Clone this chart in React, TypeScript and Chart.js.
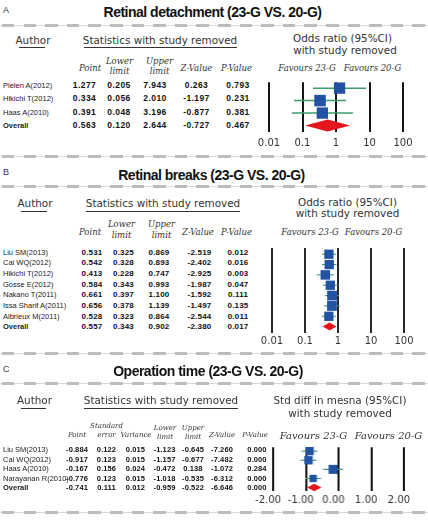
import React, { useEffect, useRef } from "react";
import { Chart, registerables } from "chart.js";

Chart.register(...registerables);

// ---- A: Retinal detachment, odds ratio with study removed ----
const authorsA = ["Pielen A(2012)", "Hikichi T(2012)", "Haas A(2010)", "Overall"];
const pointA = [1.277, 0.334, 0.391, 0.563];
const lowerA = [0.205, 0.056, 0.048, 0.12];
const upperA = [7.943, 2.01, 3.196, 2.644];
const zA = [0.263, -1.197, -0.877, -0.727];
const pA = [0.793, 0.231, 0.381, 0.467];

// ---- B: Retinal breaks, odds ratio with study removed ----
const authorsB = [
  "Liu SM(2013)",
  "Cai WQ(2012)",
  "Hikichi T(2012)",
  "Gosse E(2012)",
  "Nakano T(2011)",
  "Issa Sharif A(2011)",
  "Albrieux M(2011)",
  "Overall",
];
const pointB = [0.531, 0.542, 0.413, 0.584, 0.661, 0.656, 0.528, 0.557];
const lowerB = [0.325, 0.328, 0.228, 0.343, 0.397, 0.378, 0.323, 0.343];
const upperB = [0.869, 0.893, 0.747, 0.993, 1.1, 1.139, 0.864, 0.902];
const zB = [-2.519, -2.402, -2.925, -1.987, -1.592, -1.497, -2.544, -2.38];
const pB = [0.012, 0.016, 0.003, 0.047, 0.111, 0.135, 0.011, 0.017];

// ---- C: Operation time, std diff in means with study removed ----
const authorsC = ["Liu SM(2013)", "Cai WQ(2012)", "Haas A(2010)", "Narayanan R(2010)", "Overall"];
const pointC = [-0.884, -0.917, -0.167, -0.776, -0.741];
const seC = [0.122, 0.123, 0.156, 0.123, 0.111];
const varC = [0.015, 0.015, 0.024, 0.015, 0.012];
const lowerC = [-1.123, -1.157, -0.472, -1.018, -0.959];
const upperC = [-0.645, -0.677, 0.138, -0.535, -0.522];
const zC = [-7.26, -7.482, -1.072, -6.312, -6.646];
const pC = [0.0, 0.0, 0.284, 0.0, 0.0];

// axis ticks
const ticksOR = [0.01, 0.1, 1, 10, 100];
const tickLabelsOR = ["0.01", "0.1", "1", "10", "100"];
const ticksSMD = [-2, -1, 0, 1, 2];
const tickLabelsSMD = ["-2.00", "-1.00", "0.00", "1.00", "2.00"];

const SANS = '"Liberation Sans", Arial, sans-serif';
const HEAD = '"DejaVu Sans", sans-serif';
const ITAL = '"DejaVu Serif", serif';
const BLUE = "#2152a3";
const GREEN = "#3f9b6c";
const RED = "#e3161d";

type Align = "left" | "center" | "right";

function Txt(props: {
  x: number;
  y: number;
  align?: Align;
  style?: React.CSSProperties;
  children: React.ReactNode;
}) {
  const { x, y, align = "left", style, children } = props;
  const tx = align === "center" ? "-50%" : align === "right" ? "-100%" : "0";
  return (
    <div
      style={{
        position: "absolute",
        left: x,
        top: y,
        transform: `translate(${tx},-50%)`,
        whiteSpace: "nowrap",
        lineHeight: 1,
        ...style,
      }}
    >
      {children}
    </div>
  );
}

function Dash({ y }: { y: number }) {
  return (
    <div style={{ position: "absolute", left: 0, top: y - 1.5, width: 428, height: 3 }}>
      <div style={{ position: "absolute", left: 0, right: 0, top: 1, height: 1, background: "#d9d9d9" }} />
      <div
        style={{
          position: "absolute",
          inset: 0,
          background:
            "repeating-linear-gradient(90deg, #bdbdbd 0px, #bdbdbd 12.5px, transparent 12.5px, transparent 21.6px)",
          backgroundPosition: "2px 0",
        }}
      />
    </div>
  );
}

function Rule({ x1, x2, y }: { x1: number; x2: number; y: number }) {
  return <div style={{ position: "absolute", left: x1, top: y, width: x2 - x1, height: 1.3, background: "#333" }} />;
}

type PlotProps = {
  type: "logarithmic" | "linear";
  min: number;
  max: number;
  ticks: number[];
  tickLabels: string[];
  point: number[];
  lower: number[];
  upper: number[];
  boxes: number[];
  diamondH: number;
  whiskerW: number;
  areaLeft: number;
  areaRight: number;
  areaTop: number;
  areaBottom: number;
  row0: number;
  pitch: number;
  labelPad: number;
  labelOffset?: number;
  gridColor: string;
};

function ForestPlot(p: PlotProps) {
  const ref = useRef<HTMLCanvasElement>(null);
  const padX = 20;
  const padTop = 4;
  const axisH = 20;
  const padBottom = 2;
  const w = p.areaRight - p.areaLeft + 2 * padX;
  const h = p.areaBottom - p.areaTop + padTop + axisH + padBottom;

  useEffect(() => {
    if (!ref.current) return;
    const studies = p.point.length - 1;
    const marks = {
      id: "forestMarks",
      beforeDatasetsDraw(chart: any) {
        const xs = chart.scales.x;
        const ys = chart.scales.y;
        const ctx = chart.ctx;
        ctx.save();
        ctx.strokeStyle = GREEN;
        ctx.lineWidth = p.whiskerW;
        for (let i = 0; i < studies; i++) {
          const y = ys.getPixelForValue(i);
          ctx.beginPath();
          ctx.moveTo(xs.getPixelForValue(p.lower[i]), y);
          ctx.lineTo(xs.getPixelForValue(p.upper[i]), y);
          ctx.stroke();
        }
        ctx.restore();
      },
      afterDatasetsDraw(chart: any) {
        const xs = chart.scales.x;
        const ys = chart.scales.y;
        const ctx = chart.ctx;
        const y = ys.getPixelForValue(studies);
        const xl = xs.getPixelForValue(p.lower[studies]);
        const xc = xs.getPixelForValue(p.point[studies]);
        const xr = xs.getPixelForValue(p.upper[studies]);
        ctx.save();
        ctx.fillStyle = RED;
        ctx.beginPath();
        ctx.moveTo(xl, y);
        ctx.lineTo(xc, y - p.diamondH / 2);
        ctx.lineTo(xr, y);
        ctx.lineTo(xc, y + p.diamondH / 2);
        ctx.closePath();
        ctx.fill();
        ctx.restore();
      },
    };

    const chart = new Chart(ref.current, {
      type: "scatter",
      data: {
        datasets: [
          {
            data: p.point.slice(0, studies).map((x, i) => ({ x, y: i })),
            pointStyle: "rect",
            pointRadius: p.boxes.map((b) => b / Math.SQRT2),
            backgroundColor: BLUE,
            borderColor: BLUE,
            borderWidth: 0,
            clip: false as any,
          },
        ],
      },
      options: {
        responsive: false,
        animation: false,
        events: [],
        layout: { padding: { left: padX, right: padX, top: padTop, bottom: padBottom } },
        plugins: { legend: { display: false }, tooltip: { enabled: false } },
        scales: {
          x: {
            type: p.type,
            min: p.min,
            max: p.max,
            afterBuildTicks: (s: any) => {
              s.ticks = p.ticks.map((v) => ({ value: v }));
            },
            afterFit: (s: any) => {
              s.height = axisH;
            },
            ticks: {
              callback: (_v: any, i: number) => p.tickLabels[i],
              autoSkip: false,
              maxRotation: 0,
              padding: p.labelPad,
              labelOffset: p.labelOffset ?? 0,
              color: "#333",
              font: { family: "DejaVu Sans", size: 10 },
            },
            grid: { color: p.gridColor, lineWidth: 2, drawTicks: false },
            border: { display: false },
          } as any,
          y: {
            type: "linear",
            reverse: true,
            display: false,
            min: (p.areaTop - p.row0) / p.pitch,
            max: (p.areaBottom - p.row0) / p.pitch,
          },
        },
      },
      plugins: [marks],
    });
    return () => chart.destroy();
  }, []);

  return (
    <canvas
      ref={ref}
      width={w}
      height={h}
      style={{ position: "absolute", left: p.areaLeft - padX, top: p.areaTop - padTop, width: w, height: h }}
    />
  );
}

function Rows(props: {
  names: string[];
  cols: number[][];
  centers: number[];
  y0: number;
  pitch: number;
  nameSize: number;
  valSize: number;
  spacing: number;
}) {
  const { names, cols, centers, y0, pitch, nameSize, valSize, spacing } = props;
  const last = names.length - 1;
  return (
    <>
      {names.map((n, i) => (
        <Txt
          key={"n" + i}
          x={3}
          y={y0 + i * pitch}
          style={{ font: `${i === last ? "bold " : ""}${nameSize}px ${SANS}`, color: "#222" }}
        >
          {n}
        </Txt>
      ))}
      {cols.map((col, c) =>
        col.map((v, i) => (
          <Txt
            key={`v${c}-${i}`}
            x={centers[c]}
            y={y0 + i * pitch}
            align="center"
            style={{ font: `bold ${valSize}px ${SANS}`, letterSpacing: spacing, color: "#111" }}
          >
            {v.toFixed(3)}
          </Txt>
        ))
      )}
    </>
  );
}

const titleStyle: React.CSSProperties = { font: `bold 14px ${SANS}`, letterSpacing: -0.5, color: "#111" };
const headStyle: React.CSSProperties = { font: `10.4px ${HEAD}`, color: "#333" };
const italStyle = (s: number): React.CSSProperties => ({ font: `italic ${s}px ${ITAL}`, color: "#333" });
const panelStyle: React.CSSProperties = { font: `9px ${SANS}`, color: "#333" };

export default function App() {
  useEffect(() => {
    document.body.style.margin = "0";
    document.body.style.background = "#fff";
  }, []);

  return (
    <div style={{ position: "relative", width: 428, height: 524, overflow: "hidden", background: "#fff" }}>
      {/* ===== A ===== */}
      <Txt x={3} y={10} style={panelStyle}>A</Txt>
      <Txt x={212.5} y={12} align="center" style={titleStyle}>Retinal detachment (23-G VS. 20-G)</Txt>
      <Dash y={25} />
      <Txt x={33} y={40} align="center" style={headStyle}>Author</Txt>
      <Rule x1={19} x2={45} y={46.5} />
      <Txt x={160} y={40} align="center" style={headStyle}>Statistics with study removed</Txt>
      <Rule x1={84} x2={237} y={46.5} />
      <Txt x={342.5} y={38} align="center" style={headStyle}>Odds ratio (95%CI)</Txt>
      <Txt x={345} y={50} align="center" style={headStyle}>with study removed</Txt>

      <Txt x={90} y={68} align="center" style={italStyle(8.5)}>Point</Txt>
      <Txt x={119.5} y={61} align="center" style={italStyle(8.5)}>Lower</Txt>
      <Txt x={119.5} y={71} align="center" style={italStyle(8.5)}>limit</Txt>
      <Txt x={159.5} y={61} align="center" style={italStyle(8.5)}>Upper</Txt>
      <Txt x={159.5} y={71} align="center" style={italStyle(8.5)}>limit</Txt>
      <Txt x={196.5} y={68} align="center" style={italStyle(8.5)}>Z-Value</Txt>
      <Txt x={236.5} y={68} align="center" style={italStyle(8.5)}>P-Value</Txt>
      <Txt x={307} y={68} align="center" style={italStyle(8.5)}>Favours 23-G</Txt>
      <Txt x={372.5} y={68} align="center" style={italStyle(8.5)}>Favours 20-G</Txt>

      <Rows
        names={authorsA}
        cols={[pointA, lowerA, upperA, zA, pA]}
        centers={[84.5, 119, 155, 196.5, 238]}
        y0={84.5}
        pitch={13.5}
        nameSize={7.5}
        valSize={8.5}
        spacing={0.4}
      />
      <ForestPlot
        type="logarithmic"
        min={0.01}
        max={100}
        ticks={ticksOR}
        tickLabels={tickLabelsOR}
        point={pointA}
        lower={lowerA}
        upper={upperA}
        boxes={[11.3, 11.5, 11.3]}
        diamondH={12}
        whiskerW={1.5}
        areaLeft={269}
        areaRight={403}
        areaTop={78}
        areaBottom={132}
        row0={84.5}
        pitch={13.5}
        labelPad={5}
        gridColor="#151515"
      />
      <Dash y={156.5} />

      {/* ===== B ===== */}
      <Txt x={3} y={172} style={panelStyle}>B</Txt>
      <Txt x={211.5} y={175} align="center" style={titleStyle}>Retinal breaks (23-G VS. 20-G)</Txt>
      <Dash y={186} />
      <Txt x={35} y={203} align="center" style={headStyle}>Author</Txt>
      <Rule x1={21} x2={47} y={210.5} />
      <Txt x={163} y={203} align="center" style={headStyle}>Statistics with study removed</Txt>
      <Rule x1={86} x2={240} y={210.5} />
      <Txt x={347.5} y={201.5} align="center" style={headStyle}>Odds ratio (95%CI)</Txt>
      <Txt x={347.5} y={213} align="center" style={headStyle}>with study removed</Txt>

      <Txt x={90} y={232} align="center" style={italStyle(8.5)}>Point</Txt>
      <Txt x={121.5} y={223.5} align="center" style={italStyle(8.5)}>Lower</Txt>
      <Txt x={121.5} y={235} align="center" style={italStyle(8.5)}>limit</Txt>
      <Txt x={161.5} y={223.5} align="center" style={italStyle(8.5)}>Upper</Txt>
      <Txt x={161.5} y={235} align="center" style={italStyle(8.5)}>limit</Txt>
      <Txt x={198} y={232} align="center" style={italStyle(8.5)}>Z-Value</Txt>
      <Txt x={236.5} y={232} align="center" style={italStyle(8.5)}>P-Value</Txt>
      <Txt x={310} y={232} align="center" style={italStyle(8.5)}>Favours 23-G</Txt>
      <Txt x={373.5} y={232} align="center" style={italStyle(8.5)}>Favours 20-G</Txt>

      <Rows
        names={authorsB}
        cols={[pointB, lowerB, upperB, zB, pB]}
        centers={[92, 123.5, 159, 199.5, 238]}
        y0={251.5}
        pitch={10.7}
        nameSize={7.5}
        valSize={8}
        spacing={0.2}
      />
      <ForestPlot
        type="logarithmic"
        min={0.01}
        max={100}
        ticks={ticksOR}
        tickLabels={tickLabelsOR}
        point={pointB}
        lower={lowerB}
        upper={upperB}
        boxes={[9.3, 9.3, 9.5, 9.3, 9.8, 9.8, 9.3]}
        diamondH={8}
        whiskerW={1.1}
        areaLeft={272}
        areaRight={404}
        areaTop={245}
        areaBottom={333}
        row0={251.5}
        pitch={10.7}
        labelPad={2}
        gridColor="#2a2a2a"
      />
      <Dash y={353} />

      {/* ===== C ===== */}
      <Txt x={3} y={369} style={panelStyle}>C</Txt>
      <Txt x={208} y={371} align="center" style={titleStyle}>Operation time (23-G VS. 20-G)</Txt>
      <Dash y={383} />
      <Txt x={34.5} y={400} align="center" style={headStyle}>Author</Txt>
      <Rule x1={21} x2={46} y={407.5} />
      <Txt x={161} y={400} align="center" style={headStyle}>Statistics with study removed</Txt>
      <Rule x1={84} x2={238} y={407.5} />
      <Txt x={340} y={400} align="center" style={headStyle}>Std diff in mesna (95%CI)</Txt>
      <Txt x={340} y={413} align="center" style={headStyle}>with study removed</Txt>

      <Txt x={77} y={435} align="center" style={italStyle(7)}>Point</Txt>
      <Txt x={106.5} y={426} align="center" style={italStyle(7)}>Standard</Txt>
      <Txt x={106.5} y={435} align="center" style={italStyle(7)}>error</Txt>
      <Txt x={136} y={435} align="center" style={italStyle(7)}>Variance</Txt>
      <Txt x={165} y={428} align="center" style={italStyle(7)}>Lower</Txt>
      <Txt x={165} y={437} align="center" style={italStyle(7)}>limit</Txt>
      <Txt x={193} y={428} align="center" style={italStyle(7)}>Upper</Txt>
      <Txt x={193} y={437} align="center" style={italStyle(7)}>limit</Txt>
      <Txt x={222} y={435} align="center" style={italStyle(7)}>Z-Value</Txt>
      <Txt x={255} y={435} align="center" style={italStyle(7)}>P-Value</Txt>
      <Txt x={313.5} y={435} align="center" style={italStyle(10)}>Favours 23-G</Txt>
      <Txt x={388.5} y={435} align="center" style={italStyle(10)}>Favours 20-G</Txt>

      <Rows
        names={authorsC}
        cols={[pointC, seC, varC, lowerC, upperC, zC, pC]}
        centers={[77, 106.5, 135.5, 164.5, 193, 222, 257]}
        y0={449}
        pitch={9.6}
        nameSize={7.5}
        valSize={7.5}
        spacing={0.1}
      />
      <ForestPlot
        type="linear"
        min={-2}
        max={2}
        ticks={ticksSMD}
        tickLabels={tickLabelsSMD}
        point={pointC}
        lower={lowerC}
        upper={upperC}
        boxes={[8.3, 8.3, 9, 7.3]}
        diamondH={7.5}
        whiskerW={1.2}
        areaLeft={273}
        areaRight={403.5}
        areaTop={445}
        areaBottom={491}
        row0={449}
        pitch={9.6}
        labelPad={3}
        labelOffset={-5}
        gridColor="#151515"
      />
      <Dash y={512.5} />
    </div>
  );
}
